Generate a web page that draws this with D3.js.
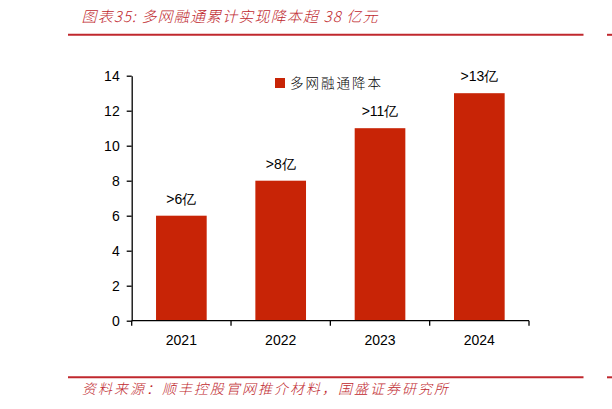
<!DOCTYPE html>
<html>
<head>
<meta charset="utf-8">
<script src="https://cdn.jsdelivr.net/npm/d3@7"></script>
<style>
  body { margin: 0; background: #fff; }
  svg { display: block; }
</style>
</head>
<body>
<div id="chart"></div>
<script>
// Data
const years = ['2021', '2022', '2023', '2024'];
const savings = [6, 8, 11, 13];
const barLabels = ['>6亿', '>8亿', '>11亿', '>13亿'];
const yTicks = [0, 2, 4, 6, 8, 10, 12, 14];

const W = 612, H = 409;
const margin = {top: 75.7, right: 83, bottom: 88.3, left: 131.7};
const width = W - margin.left - margin.right;
const height = H - margin.top - margin.bottom;

const red = '#c0282e';
const barColor = '#c82406';
const sans = '"Liberation Sans", Arial, sans-serif';
const cjk = '"Noto Sans CJK SC", sans-serif';

const svg = d3.select('#chart')
  .append('svg')
    .attr('width', W)
    .attr('height', H);

// Title
const title = svg.append('text')
  .attr('x', 81.5)
  .attr('y', 22)
  .style('font-family', cjk)
  .style('font-size', '15px')
  .style('font-weight', 300)
  .style('font-style', 'italic')
  .style('fill', red)
  .text('图表35:  多网融通累计实现降本超 38 亿元');
title.attr('textLength', 296).attr('lengthAdjust', 'spacing');

// Separator lines
[34.8, 377.3].forEach(yy => {
  svg.append('line')
    .attr('x1', 68).attr('x2', 583.5)
    .attr('y1', yy).attr('y2', yy)
    .attr('stroke', red).attr('stroke-width', 2);
  svg.append('line')
    .attr('x1', 607).attr('x2', 612)
    .attr('y1', yy).attr('y2', yy)
    .attr('stroke', red).attr('stroke-width', 2);
});

// Source
svg.append('text')
  .attr('x', 82)
  .attr('y', 394)
  .attr('textLength', 366)
  .attr('lengthAdjust', 'spacing')
  .style('font-family', cjk)
  .style('font-size', '14px')
  .style('font-weight', 300)
  .style('font-style', 'italic')
  .style('fill', red)
  .text('资料来源：顺丰控股官网推介材料，国盛证券研究所');

const g = svg.append('g')
  .attr('transform', `translate(${margin.left},${margin.top})`);

const x = d3.scaleBand()
  .domain(years)
  .range([0, width])
  .paddingInner(0.49)
  .paddingOuter(0.245);

const y = d3.scaleLinear()
  .domain([0, 14])
  .range([height, 0]);

// Bars
g.selectAll('.bar')
  .data(years)
  .join('rect')
    .attr('class', 'bar')
    .attr('x', d => x(d))
    .attr('y', (d, i) => y(savings[i]))
    .attr('width', x.bandwidth())
    .attr('height', (d, i) => height - y(savings[i]))
    .attr('fill', barColor);

// Bar labels
g.selectAll('.lbl')
  .data(years)
  .join('text')
    .attr('class', 'lbl')
    .attr('x', d => x(d) + x.bandwidth() / 2)
    .attr('y', (d, i) => y(savings[i]) - 12)
    .attr('text-anchor', 'middle')
    .style('font-family', sans)
    .style('font-size', '14px')
    .style('fill', '#000')
    .text((d, i) => barLabels[i]);

// Y axis
const yAxis = g.append('g')
  .call(d3.axisLeft(y).tickValues(yTicks).tickSize(5).tickSizeOuter(0));
yAxis.select('.domain').attr('stroke', '#000').attr('stroke-width', 1.3);
yAxis.selectAll('.tick line').attr('stroke', '#000').attr('stroke-width', 1.3);
yAxis.selectAll('text')
  .attr('x', -12)
  .style('font-family', sans)
  .style('font-size', '14px')
  .style('fill', '#000');

// X axis, ticks at category boundaries
const xAxis = g.append('g')
  .attr('transform', `translate(0,${height})`);
xAxis.append('line')
  .attr('x1', 0).attr('x2', width)
  .attr('stroke', '#000').attr('stroke-width', 1.3);
const bounds = years.map(d => x(d) - x.step() * x.paddingInner() / 2).concat([width]);
xAxis.selectAll('.xt')
  .data(bounds)
  .join('line')
    .attr('class', 'xt')
    .attr('x1', d => d).attr('x2', d => d)
    .attr('y1', 0).attr('y2', 5)
    .attr('stroke', '#000').attr('stroke-width', 1.3);
xAxis.selectAll('.xl')
  .data(years)
  .join('text')
    .attr('class', 'xl')
    .attr('x', d => x(d) + x.bandwidth() / 2)
    .attr('y', 24)
    .attr('text-anchor', 'middle')
    .style('font-family', sans)
    .style('font-size', '14px')
    .style('fill', '#000')
    .text(d => d);

// Legend
const legend = svg.append('g')
  .attr('transform', 'translate(275,78)');
legend.append('rect')
  .attr('width', 10).attr('height', 10)
  .attr('fill', barColor);
legend.append('text')
  .attr('x', 15)
  .attr('y', 10)
  .style('font-family', cjk)
  .style('font-size', '13.5px')
  .style('font-weight', 300)
  .style('letter-spacing', '2px')
  .style('fill', '#000')
  .text('多网融通降本');
</script>
</body>
</html>
